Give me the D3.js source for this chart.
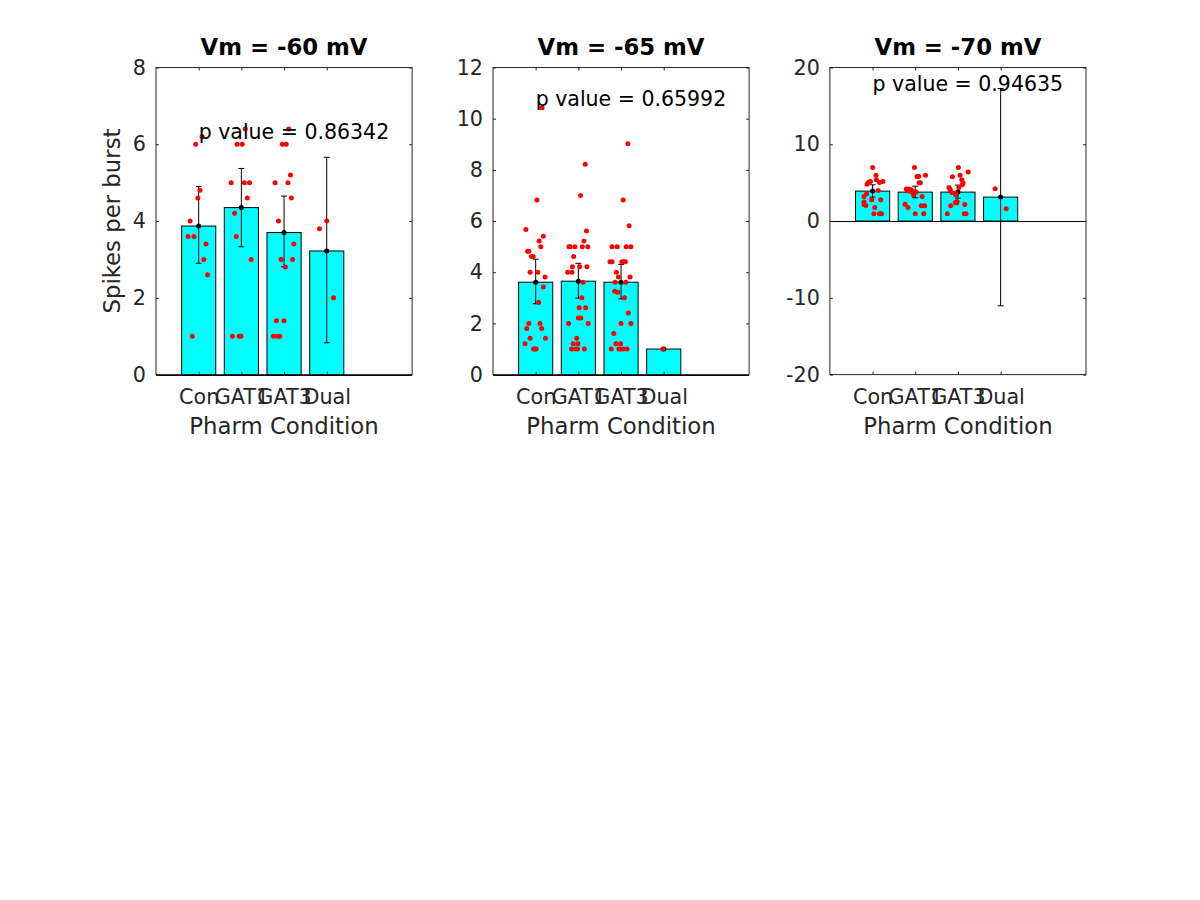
<!DOCTYPE html>
<html>
<head>
<meta charset="utf-8">
<script src="https://cdn.jsdelivr.net/npm/d3@7"></script>
<style>
  html, body { margin: 0; padding: 0; background: #fff; }
  svg { display: block; }
</style>
</head>
<body>
<svg id="chart" width="1200" height="900"></svg>
<script>
// ---------------- DATA ----------------
const categories = ["Con", "GAT1", "GAT3", "Dual"];
const panelTitles = ["Vm = -60 mV", "Vm = -65 mV", "Vm = -70 mV"];
const pValueTexts = ["p value = 0.86342", "p value = 0.65992", "p value = 0.94635"];
const pLabelAt = [6.13, 10.5, 17.0];          // data-space y of the p-value annotation
const yLimits = [[0, 8], [0, 12], [-20, 20]];
const yTicks = [[0, 2, 4, 6, 8], [0, 2, 4, 6, 8, 10, 12], [-20, -10, 0, 10, 20]];
const xLimit = [0, 6];

// bar means, error low / high
const means60 = [3.87, 4.35, 3.70, 3.22];
const errLo60 = [2.90, 3.33, 2.81, 0.83];
const errHi60 = [4.90, 5.37, 4.65, 5.66];

const means65 = [3.61, 3.65, 3.61, 1.00];
const errLo65 = [2.77, 2.99, 2.96, 1.00];
const errHi65 = [4.51, 4.35, 4.31, 1.00];

const means70 = [3.90, 3.77, 3.77, 3.12];
const errLo70 = [3.12, 3.03, 2.99, -11.04];
const errHi70 = [4.72, 4.55, 4.68, 17.27];

// individual points: [jitter (category units), value]
const pts60 = [
  [[-0.07, 6.0], [0.08, 6.2], [0.03, 4.8], [-0.02, 4.6], [-0.20, 4.0], [-0.25, 3.6], [-0.11, 3.6],
   [0.17, 3.4], [0.12, 3.0], [0.21, 2.6], [-0.15, 1.0]],
  [[-0.21, 1.0], [-0.05, 1.0], [-0.01, 1.0], [-0.12, 3.6], [-0.16, 4.2], [-0.24, 5.0], [0.07, 5.0],
   [0.19, 5.0], [0.14, 4.6], [0.23, 3.0], [-0.10, 6.0], [0.02, 6.0], [0.09, 6.4]],
  [[0.11, 6.4], [-0.04, 6.0], [0.05, 6.0], [0.15, 5.2], [-0.21, 5.0], [0.09, 5.0], [0.17, 4.6],
   [-0.13, 4.0], [0.23, 3.4], [-0.07, 3.0], [0.20, 3.0], [0.03, 2.8], [-0.18, 1.4], [0.00, 1.4],
   [-0.25, 1.0], [-0.16, 1.0], [-0.10, 1.0]],
  [[-0.17, 3.8], [0.00, 4.0], [0.16, 2.0]]
];

const pts65 = [
  [[0.15, 10.43], [0.03, 6.82], [-0.23, 5.67], [0.18, 5.41], [0.08, 5.22], [0.12, 5.0], [-0.19, 4.82],
   [-0.16, 4.82], [-0.10, 4.61], [-0.06, 4.61], [-0.13, 4.0], [0.05, 4.0], [0.22, 3.81], [0.18, 3.42],
   [0.07, 2.82], [-0.16, 2.0], [0.10, 2.0], [-0.21, 1.8], [0.14, 1.8], [-0.13, 1.42], [0.23, 1.42],
   [-0.25, 1.21], [-0.05, 1.0], [-0.02, 1.0], [0.01, 1.0]],
  [[0.16, 8.22], [0.05, 7.0], [0.19, 5.61], [0.13, 5.22], [-0.22, 5.0], [-0.19, 5.0], [-0.08, 5.0],
   [0.09, 5.0], [0.22, 5.0], [-0.11, 4.61], [-0.14, 4.21], [0.03, 4.21], [0.20, 4.21], [-0.25, 4.0],
   [-0.15, 4.0], [0.11, 3.61], [0.08, 3.0], [0.02, 2.61], [0.17, 2.61], [0.00, 2.21], [0.06, 2.21],
   [-0.23, 2.0], [0.23, 2.0], [-0.04, 1.42], [-0.12, 1.21], [-0.01, 1.21], [-0.16, 1.0], [-0.06, 1.0],
   [-0.02, 1.0], [0.14, 1.0]],
  [[0.16, 9.02], [0.05, 6.82], [0.19, 5.82], [-0.21, 5.0], [-0.09, 5.0], [0.12, 5.0], [0.23, 5.0],
   [-0.26, 4.41], [-0.21, 4.41], [0.02, 4.41], [0.06, 4.41], [0.10, 4.41], [-0.11, 4.0], [-0.06, 3.81],
   [0.21, 3.81], [-0.14, 3.61], [0.11, 3.61], [-0.15, 3.26], [-0.08, 3.22], [0.08, 3.0], [0.17, 2.41],
   [-0.17, 1.61], [0.00, 2.0], [0.23, 2.0], [-0.12, 1.21], [-0.01, 1.21], [-0.23, 1.0], [-0.05, 1.0],
   [0.00, 1.0], [0.06, 1.0], [0.14, 1.0]],
  [[-0.02, 1.0]]
];

const pts70 = [
  [[0.00, 6.97], [0.08, 5.97], [0.09, 5.37], [0.16, 5.02], [0.24, 5.15], [-0.08, 5.1], [-0.10, 5.0],
   [-0.05, 5.15], [-0.13, 4.8], [0.13, 3.98], [-0.14, 3.55], [-0.20, 3.2], [-0.02, 2.77], [0.19, 2.77],
   [-0.20, 2.47], [-0.20, 2.16], [-0.16, 2.03], [0.05, 1.77], [0.03, 0.95], [0.16, 0.95], [0.21, 0.95]],
  [[-0.02, 6.97], [0.04, 5.8], [0.08, 5.8], [0.24, 5.97], [0.12, 5.0], [0.09, 5.0], [-0.21, 4.16],
   [-0.15, 4.16], [-0.09, 4.07], [-0.18, 3.94], [-0.12, 3.85], [0.02, 3.77], [-0.04, 3.42], [0.16, 3.2],
   [-0.24, 2.2], [-0.17, 1.77], [0.14, 2.0], [0.22, 2.0], [0.00, 0.95], [0.20, 0.95]],
  [[0.01, 6.97], [0.24, 6.4], [-0.13, 5.76], [0.05, 5.97], [0.09, 5.37], [0.12, 4.94], [0.10, 4.72],
   [0.02, 4.37], [-0.21, 4.37], [-0.18, 4.07], [-0.14, 3.72], [-0.06, 3.64], [-0.05, 3.38], [-0.17, 1.99],
   [-0.02, 2.55], [-0.06, 2.42], [-0.03, 2.34], [0.16, 2.16], [-0.25, 0.95], [0.15, 0.95], [0.19, 0.95]],
  [[-0.13, 4.2], [0.13, 1.6]]
];

const panelMeans = [means60, means65, means70];
const panelErrLo = [errLo60, errLo65, errLo70];
const panelErrHi = [errHi60, errHi65, errHi70];
const panelPoints = [pts60, pts65, pts70];

// ---------------- LAYOUT ----------------
const svg = d3.select("#chart");
const FONT = "'DejaVu Sans', 'Liberation Sans', sans-serif";
const TXT = "#262626";
const axLefts = [156, 493, 829.9];
const axW = 256.1, axTop = 67.5, axH = 307.1;
const barWidth = 0.8;

svg.append("rect").attr("width", 1200).attr("height", 900).attr("fill", "#fff");

for (let p = 0; p < 3; p++) {
  const left = axLefts[p];
  const x = d3.scaleLinear().domain(xLimit).range([left, left + axW]);
  const y = d3.scaleLinear().domain(yLimits[p]).range([axTop + axH, axTop]);
  const g = svg.append("g");
  const idx = d3.range(categories.length);

  // bars
  g.selectAll("rect.bar").data(idx).join("rect")
    .attr("class", "bar")
    .attr("x", i => x(i + 1 - barWidth / 2))
    .attr("width", i => x(i + 1 + barWidth / 2) - x(i + 1 - barWidth / 2))
    .attr("y", i => Math.min(y(panelMeans[p][i]), y(0)))
    .attr("height", i => Math.abs(y(0) - y(panelMeans[p][i])))
    .attr("fill", "#00ffff").attr("stroke", "#000").attr("stroke-width", 1);

  // baseline
  g.append("line")
    .attr("x1", x(xLimit[0])).attr("x2", x(xLimit[1]))
    .attr("y1", Math.round(y(0)) + 0.5).attr("y2", Math.round(y(0)) + 0.5)
    .attr("stroke", "#000").attr("stroke-width", 1);

  // error bars
  const eb = g.selectAll("g.eb").data(idx.filter(i => panelErrHi[p][i] !== panelErrLo[p][i])).join("g").attr("class", "eb");
  eb.append("line")
    .attr("x1", i => x(i + 1)).attr("x2", i => x(i + 1))
    .attr("y1", i => y(panelErrLo[p][i])).attr("y2", i => y(panelErrHi[p][i]))
    .attr("stroke", "#000").attr("stroke-width", 1);
  eb.append("line")
    .attr("x1", i => x(i + 1) - 3).attr("x2", i => x(i + 1) + 3)
    .attr("y1", i => y(panelErrLo[p][i])).attr("y2", i => y(panelErrLo[p][i]))
    .attr("stroke", "#000").attr("stroke-width", 1);
  eb.append("line")
    .attr("x1", i => x(i + 1) - 3).attr("x2", i => x(i + 1) + 3)
    .attr("y1", i => y(panelErrHi[p][i])).attr("y2", i => y(panelErrHi[p][i]))
    .attr("stroke", "#000").attr("stroke-width", 1);
  g.selectAll("circle.mean").data(idx).join("circle")
    .attr("class", "mean")
    .attr("cx", i => x(i + 1)).attr("cy", i => y(panelMeans[p][i]))
    .attr("r", 2.5).attr("fill", "#000");

  // points
  const flat = [];
  panelPoints[p].forEach((arr, i) => arr.forEach(d => flat.push({ c: i, j: d[0], v: d[1] })));
  g.selectAll("circle.pt").data(flat).join("circle")
    .attr("class", "pt")
    .attr("cx", d => x(d.c + 1 + d.j)).attr("cy", d => y(d.v))
    .attr("r", 2.5).attr("fill", "#ff0000");

  // axes
  const styleAxis = sel => {
    sel.select(".domain").remove();
    sel.selectAll(".tick line").attr("stroke", TXT);
    sel.selectAll(".tick text").attr("fill", TXT).attr("font-family", FONT).attr("font-size", 20.7);
  };
  g.append("g").attr("transform", `translate(${left},0)`)
    .call(d3.axisLeft(y).tickValues(yTicks[p]).tickFormat(d => String(d))
      .tickSizeInner(-3).tickSizeOuter(0).tickPadding(10))
    .call(styleAxis);
  g.append("g").attr("transform", `translate(${left + axW},0)`)
    .call(d3.axisRight(y).tickValues(yTicks[p]).tickSizeInner(-3).tickSizeOuter(0).tickFormat(""))
    .call(styleAxis);
  g.append("g").attr("transform", `translate(0,${axTop + axH})`)
    .call(d3.axisBottom(x).tickValues([1, 2, 3, 4]).tickFormat(i => categories[i - 1])
      .tickSizeInner(-3).tickSizeOuter(0).tickPadding(14.5))
    .call(styleAxis);
  g.append("g").attr("transform", `translate(0,${axTop})`)
    .call(d3.axisTop(x).tickValues([1, 2, 3, 4]).tickFormat("").tickSizeInner(-3).tickSizeOuter(0))
    .call(styleAxis);

  // box
  g.append("rect")
    .attr("x", left).attr("y", axTop).attr("width", axW).attr("height", axH)
    .attr("fill", "none").attr("stroke", TXT).attr("stroke-width", 1);

  // p value annotation
  g.append("text")
    .attr("x", x(1)).attr("y", y(pLabelAt[p]))
    .attr("font-family", FONT).attr("font-size", 20.5).attr("fill", "#000")
    .text(pValueTexts[p]);

  // title
  g.append("text")
    .attr("x", left + axW / 2).attr("y", 55)
    .attr("text-anchor", "middle").attr("font-family", FONT).attr("font-weight", "bold")
    .attr("font-size", 22.8).attr("fill", "#000")
    .text(panelTitles[p]);

  // x label
  g.append("text")
    .attr("x", left + axW / 2).attr("y", 434)
    .attr("text-anchor", "middle").attr("font-family", FONT)
    .attr("font-size", 22.8).attr("fill", TXT)
    .text("Pharm Condition");

  if (p === 0) {
    g.append("text")
      .attr("transform", `translate(120,${axTop + axH / 2}) rotate(-90)`)
      .attr("text-anchor", "middle").attr("font-family", FONT)
      .attr("font-size", 22.8).attr("fill", TXT)
      .text("Spikes per burst");
  }
}
</script>
</body>
</html>
